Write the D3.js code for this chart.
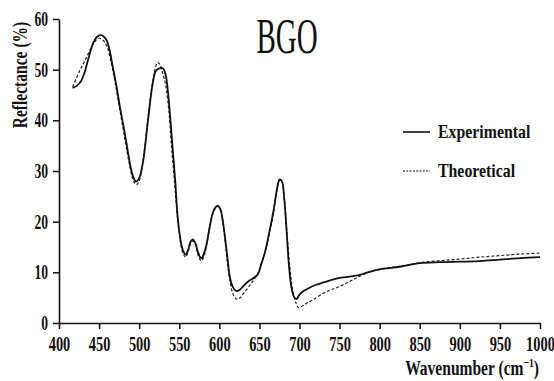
<!DOCTYPE html>
<html>
<head>
<meta charset="utf-8">
<script src="https://cdn.jsdelivr.net/npm/d3@7"></script>
<style>
  html, body { margin: 0; padding: 0; background: #fff; }
  svg { display: block; }
  text { font-family: "Liberation Serif", "Times New Roman", serif; fill: #111; }
</style>
</head>
<body>
<svg id="chart" width="554" height="381"></svg>
<script>
// Reflectance spectrum of BGO: measured vs. fitted model
const expWavenumber = [417,422,427,432,437,442,447,452,456,460,464,467,472,476,481,485,489,492,496,500,505,511,517,521,526,530,533,536,539,542,545,548,552,555,558,561,564,567,570,573,576,578,581,584,588,592,596,598,601,604,607,610,613,616,619,622,626,630,636,642,648,652,657,663,668,672,675,678,681,684,687,690,693,696,700,706,713,720,730,740,750,760,775,785,800,825,850,875,900,925,950,975,1000];
const expReflectance = [46.4,46.8,47.6,49.5,52.4,55.0,56.4,56.8,56.5,55.6,53.2,50.6,46.5,42.6,38.4,34.7,31.0,29.1,27.9,28.6,32.0,40.0,47.4,49.8,50.3,50.2,49.0,45.5,40.0,34.0,28.0,21.0,16.0,14.2,13.5,14.4,16.0,16.5,15.8,14.2,13.0,12.8,13.8,15.5,19.0,21.8,23.0,23.1,22.6,20.5,17.0,13.0,9.2,7.4,6.6,6.3,6.6,7.3,8.2,8.8,9.6,11.5,14.0,18.4,22.5,26.5,28.3,28.0,24.5,18.0,11.0,7.0,5.2,4.7,5.6,6.4,7.0,7.5,8.0,8.5,8.9,9.1,9.5,10.0,10.6,11.1,11.8,12.0,12.1,12.2,12.5,12.8,13.0];

const theoWavenumber = [417,425,433,440,445,450,455,460,465,470,476,482,487,491,494,497,500,504,510,515,519,523,526,529,533,537,540,544,548,552,555,558,561,564,567,570,573,576,578,581,584,588,592,596,598,601,604,607,610,613,616,619,622,626,630,636,642,648,652,657,663,668,672,675,678,681,684,688,692,696,699,703,710,717,730,740,750,760,770,780,790,800,825,850,875,900,925,950,975,1000];
const theoReflectance = [46.6,49.5,52.0,54.3,55.6,56.2,55.8,54.5,51.5,47.5,42.0,36.5,32.0,29.0,27.7,27.3,28.0,31.0,39.0,45.5,49.5,51.4,51.0,49.5,47.0,42.0,35.5,28.0,20.5,15.5,13.6,13.0,14.0,15.6,16.2,15.5,13.6,12.5,12.3,13.3,15.2,18.8,21.6,22.9,23.0,22.4,20.2,16.5,12.0,8.5,6.2,5.1,4.7,5.0,5.8,7.0,8.3,9.8,11.5,14.0,18.2,22.3,26.3,28.1,27.8,24.5,18.5,11.0,6.0,3.8,3.0,3.3,4.0,4.6,5.9,6.6,7.2,8.0,8.8,9.6,10.2,10.6,11.2,11.9,12.3,12.6,13.0,13.3,13.6,13.8];

const xTicks = [400,450,500,550,600,650,700,750,800,850,900,950,1000];
const yTicks = [0,10,20,30,40,50,60];
const seriesNames = ["Experimental", "Theoretical"];
const chartTitle = "BGO";

const svg = d3.select("#chart");
const margin = { left: 59, right: 14, top: 19, bottom: 58 };
const W = 554, H = 381;

const x = d3.scaleLinear().domain([400, 1000]).range([margin.left, W - margin.right]);
const y = d3.scaleLinear().domain([0, 60]).range([H - margin.bottom, margin.top]);

// Axes
const xs = 0.72, ys = 0.68;
const gx = svg.append("g")
  .attr("transform", `translate(0,${y(0)})`)
  .call(d3.axisBottom(x).tickValues(xTicks).tickFormat(d3.format("d"))
    .tickSize(6).tickSizeOuter(0).tickPadding(8));
gx.selectAll("text")
  .attr("font-size", 20).attr("font-weight", "bold")
  .attr("transform", `scale(${xs},1)`);

const gy = svg.append("g")
  .attr("transform", `translate(${x(400)},0)`)
  .call(d3.axisLeft(y).tickValues(yTicks).tickFormat(d3.format("d")).tickSize(6).tickSizeOuter(0));
gy.selectAll("text")
  .attr("font-size", 20).attr("font-weight", "bold")
  .attr("x", -11 / ys)
  .attr("transform", `scale(${ys},1)`);

svg.selectAll(".domain").attr("stroke", "#111").attr("stroke-width", 1.6);
svg.selectAll(".tick line").attr("stroke", "#111").attr("stroke-width", 1.5);

// Curves
const line = d3.line().x(d => x(d[0])).y(d => y(d[1])).curve(d3.curveCatmullRom.alpha(0.5));
const theo = theoWavenumber.map((w, i) => [w, theoReflectance[i]]);
const expt = expWavenumber.map((w, i) => [w, expReflectance[i]]);

svg.append("path").datum(theo)
  .attr("d", line).attr("fill", "none")
  .attr("stroke", "#222").attr("stroke-width", 1.2).attr("stroke-dasharray", "3,2");
svg.append("path").datum(expt)
  .attr("d", line).attr("fill", "none")
  .attr("stroke", "#111").attr("stroke-width", 1.8);

// Title
svg.append("g").attr("transform", "translate(287,53) scale(0.58,1)")
  .append("text").attr("text-anchor", "middle").attr("font-size", 50)
  .text(chartTitle);

// Legend
const legend = svg.append("g");
[0, 1].forEach(i => {
  const ly = 132 + i * 39;
  legend.append("line")
    .attr("x1", 403).attr("x2", 430).attr("y1", ly).attr("y2", ly)
    .attr("stroke", "#111")
    .attr("stroke-width", i === 0 ? 1.6 : 1.1)
    .attr("stroke-dasharray", i === 0 ? null : "2,1.3");
  legend.append("g").attr("transform", `translate(438,${ly + 5.5}) scale(0.88,1)`)
    .append("text").attr("font-size", 18).attr("font-weight", "bold")
    .text(seriesNames[i]);
});

// Axis titles
const xt = svg.append("g").attr("transform", "translate(539,375) scale(0.74,1)")
  .append("text").attr("text-anchor", "end").attr("font-size", 21).attr("font-weight", "bold");
xt.append("tspan").text("Wavenumber  (cm");
xt.append("tspan").attr("font-size", 13).attr("dy", -8).text("−1");
xt.append("tspan").attr("dy", 8).text(")");

svg.append("g").attr("transform", "translate(27,75) rotate(-90) scale(0.74,1)")
  .append("text").attr("text-anchor", "middle").attr("font-size", 21).attr("font-weight", "bold")
  .text("Reflectance (%)");
</script>
</body>
</html>
